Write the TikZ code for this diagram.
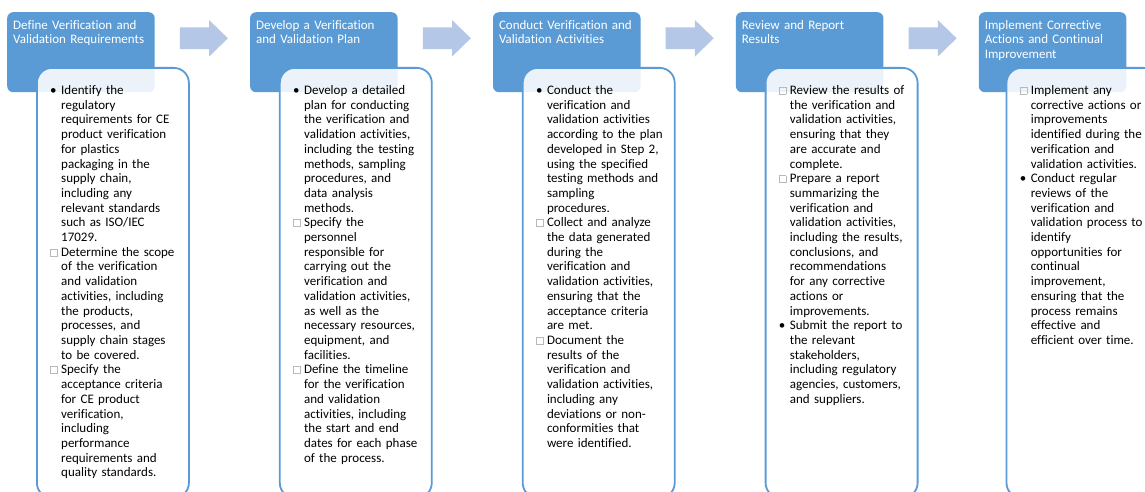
\documentclass[tikz,border=0pt]{standalone}
\usepackage{fontspec}
\setmainfont{Carlito}[Ligatures=NoCommon]
\usepackage{xcolor}
\usetikzlibrary{positioning}
\definecolor{headblue}{HTML}{5B9BD5}
\definecolor{arrowblue}{HTML}{B4C7E7}
\newcommand{\dotitem}{\par\hangindent=11pt\hangafter=1\noindent\strut\makebox[11pt][l]{\textbullet}}
\newcommand{\boxitem}{\par\hangindent=11pt\hangafter=1\noindent\strut\makebox[11pt][l]{\raisebox{0.5pt}{\color{gray!55}\fboxrule=0.5pt\fboxsep=0pt\fbox{\rule{0pt}{6.5pt}\rule{6.5pt}{0pt}}}}}

\begin{document}
\begin{tikzpicture}[
    x=1pt, y=-1pt,
    head/.style={fill=headblue, rounded corners=6pt, minimum width=147.5pt, minimum height=80pt, inner sep=0pt},
    body/.style={draw=headblue, line width=1.8pt, fill=white, fill opacity=0.88, rounded corners=15pt,
                 minimum width=152pt, minimum height=430pt, inner sep=0pt, anchor=north west},
    headtext/.style={anchor=north west, inner sep=0pt, text width=150pt, align=left, text=white,
                     font=\fontsize{13}{14.7}\selectfont},
    bodytext/.style={anchor=north west, inner sep=0pt, text width=136pt, align=left,
                     font=\fontsize{13}{14.7}\selectfont},
    flowarr/.style={fill=arrowblue}
]
    \useasboundingbox (0,0) rectangle (1145,492);
    \fill[white] (0,0) rectangle (1145,492);
    \clip (0,0) rectangle (1145,492);

    \node[head, anchor=north west] (h1) at (7,12) {};
    \node[head, right=95pt of h1] (h2) {};
    \node[head, right=95pt of h2] (h3) {};
    \node[head, right=95pt of h3] (h4) {};
    \node[head, right=95pt of h4] (h5) {};

    \node[headtext] (t1) at ([shift={(6,6.7)}]h1.north west) {\strut Define Verification and\\Validation Requirements};
    \node[headtext] (t2) at ([shift={(6,6.7)}]h2.north west) {\strut Develop a Verification\\and Validation Plan};
    \node[headtext] (t3) at ([shift={(6,6.7)}]h3.north west) {\strut Conduct Verification and\\Validation Activities};
    \node[headtext] (t4) at ([shift={(6,6.7)}]h4.north west) {\strut Review and Report\\Results};
    \node[headtext] (t5) at ([shift={(6,6.7)}]h5.north west) {\strut Implement Corrective\\Actions and Continual\\Improvement};

    \node[body] (b1) at ([shift={(29,55)}]h1.north west) {};
    \node[body] (b2) at ([shift={(29,55)}]h2.north west) {};
    \node[body] (b3) at ([shift={(29,55)}]h3.north west) {};
    \node[body] (b4) at ([shift={(29,55)}]h4.north west) {};
    \node[body] (b5) at ([shift={(27,55)}]h5.north west) {};

    \node[bodytext] (l1) at ([shift={(14,12.7)}]b1.north west) {%
      \dotitem Identify the\newline regulatory\newline requirements for CE\newline product verification\newline for plastics\newline packaging in the\newline supply chain,\newline including any\newline relevant standards\newline such as ISO/IEC\newline 17029.
      \boxitem Determine the scope\newline of the verification\newline and validation\newline activities, including\newline the products,\newline processes, and\newline supply chain stages\newline to be covered.
      \boxitem Specify the\newline acceptance criteria\newline for CE product\newline verification,\newline including\newline performance\newline requirements and\newline quality standards.\par};
    \node[bodytext] (l2) at ([shift={(14,12.7)}]b2.north west) {%
      \dotitem Develop a detailed\newline plan for conducting\newline the verification and\newline validation activities,\newline including the testing\newline methods, sampling\newline procedures, and\newline data analysis\newline methods.
      \boxitem Specify the\newline personnel\newline responsible for\newline carrying out the\newline verification and\newline validation activities,\newline as well as the\newline necessary resources,\newline equipment, and\newline facilities.
      \boxitem Define the timeline\newline for the verification\newline and validation\newline activities, including\newline the start and end\newline dates for each phase\newline of the process.\par};
    \node[bodytext] (l3) at ([shift={(14,12.7)}]b3.north west) {%
      \dotitem Conduct the\newline verification and\newline validation activities\newline according to the plan\newline developed in Step 2,\newline using the specified\newline testing methods and\newline sampling\newline procedures.
      \boxitem Collect and analyze\newline the data generated\newline during the\newline verification and\newline validation activities,\newline ensuring that the\newline acceptance criteria\newline are met.
      \boxitem Document the\newline results of the\newline verification and\newline validation activities,\newline including any\newline deviations or non-\newline conformities that\newline were identified.\par};
    \node[bodytext] (l4) at ([shift={(14,12.7)}]b4.north west) {%
      \boxitem Review the results of\newline the verification and\newline validation activities,\newline ensuring that they\newline are accurate and\newline complete.
      \boxitem Prepare a report\newline summarizing the\newline verification and\newline validation activities,\newline including the results,\newline conclusions, and\newline recommendations\newline for any corrective\newline actions or\newline improvements.
      \dotitem Submit the report to\newline the relevant\newline stakeholders,\newline including regulatory\newline agencies, customers,\newline and suppliers.\par};
    \node[bodytext] (l5) at ([shift={(14,12.7)}]b5.north west) {%
      \boxitem Implement any\newline corrective actions or\newline improvements\newline identified during the\newline verification and\newline validation activities.
      \dotitem Conduct regular\newline reviews of the\newline verification and\newline validation process to\newline identify\newline opportunities for\newline continual\newline improvement,\newline ensuring that the\newline process remains\newline effective and\newline efficient over time.\par};

    \coordinate (a1) at ([shift={(49,26.3)}]h1.north east);
    \coordinate (a2) at ([shift={(49,26.3)}]h2.north east);
    \coordinate (a3) at ([shift={(49,26.3)}]h3.north east);
    \coordinate (a4) at ([shift={(49,26.3)}]h4.north east);
    \fill[flowarr, shift={(a1)}] (-24,-10.8) -- (5.2,-10.8) -- (5.2,-18.3) -- (24,0) -- (5.2,18.3) -- (5.2,10.8) -- (-24,10.8) -- cycle;
    \fill[flowarr, shift={(a2)}] (-24,-10.8) -- (5.2,-10.8) -- (5.2,-18.3) -- (24,0) -- (5.2,18.3) -- (5.2,10.8) -- (-24,10.8) -- cycle;
    \fill[flowarr, shift={(a3)}] (-24,-10.8) -- (5.2,-10.8) -- (5.2,-18.3) -- (24,0) -- (5.2,18.3) -- (5.2,10.8) -- (-24,10.8) -- cycle;
    \fill[flowarr, shift={(a4)}] (-24,-10.8) -- (5.2,-10.8) -- (5.2,-18.3) -- (24,0) -- (5.2,18.3) -- (5.2,10.8) -- (-24,10.8) -- cycle;
\end{tikzpicture}
\end{document}
